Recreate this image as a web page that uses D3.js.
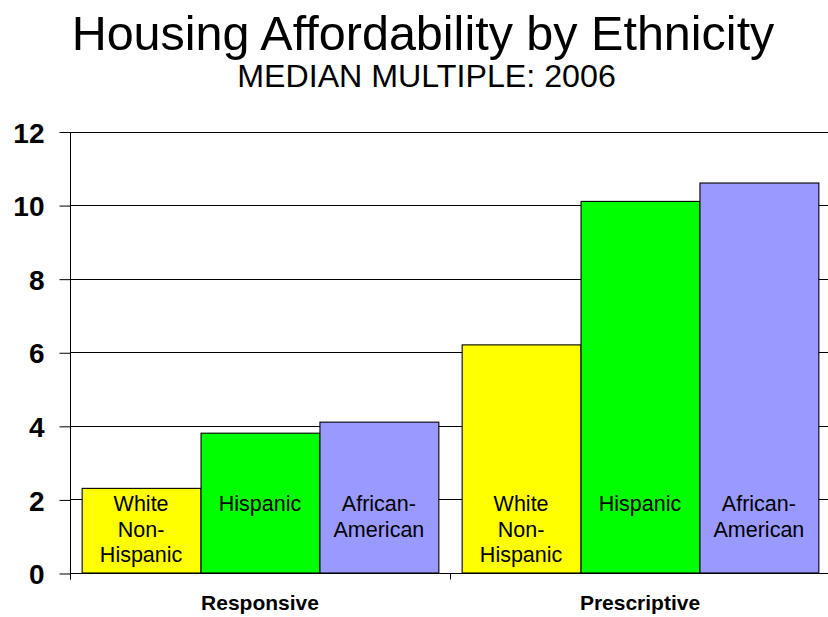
<!DOCTYPE html>
<html>
<head>
<meta charset="utf-8">
<script src="https://cdn.jsdelivr.net/npm/d3@7"></script>
<style>
  html, body { margin: 0; padding: 0; background: #fff; }
  svg { display: block; font-family: "Liberation Sans", Arial, sans-serif; }
</style>
</head>
<body>
<svg id="chart" width="828" height="617"></svg>
<script>
const categories = ["Responsive", "Prescriptive"];
const series = ["White Non-Hispanic", "Hispanic", "African-American"];
const seriesLabels = [["White", "Non-", "Hispanic"], ["Hispanic"], ["African-", "American"]];
const seriesColors = ["#FFFF00", "#00FF00", "#9999FF"];
const values = [
  [2.3, 3.8, 4.1],   // Responsive
  [6.2, 10.1, 10.6]  // Prescriptive
];
const yTicks = [0, 2, 4, 6, 8, 10, 12];
const titleText = "Housing Affordability by Ethnicity";
const subtitleText = "MEDIAN MULTIPLE: 2006";

const svg = d3.select("#chart");
const mLeft = 70, mRight = 830, mTop = 131.5, mBottom = 573;

const x0 = d3.scaleBand().domain(categories).range([mLeft, mRight]).padding(0);
const x1 = d3.scaleBand().domain(series).range([0, x0.bandwidth()]).paddingInner(0).paddingOuter(0.098);
const y = d3.scaleLinear().domain([0, 12]).range([mBottom, mTop]);

// Title
svg.append("text").attr("x", 423).attr("y", 50).attr("text-anchor", "middle")
  .attr("font-size", 48.5).attr("fill", "#000").text(titleText);
svg.append("text").attr("x", 426.5).attr("y", 87).attr("text-anchor", "middle")
  .attr("font-size", 32.2).attr("fill", "#000").text(subtitleText);

// Gridlines
svg.append("g").selectAll("line").data(yTicks.filter(d => d > 0)).join("line")
  .attr("x1", mLeft).attr("x2", mRight)
  .attr("y1", d => Math.round(y(d)) + 0.5).attr("y2", d => Math.round(y(d)) + 0.5)
  .attr("stroke", "#000").attr("stroke-width", 1);

// Y axis
const yAxis = d3.axisLeft(y).tickValues(yTicks).tickSize(11).tickPadding(15).tickFormat(d3.format("d"));
const gy = svg.append("g").attr("transform", `translate(${mLeft + 0.5},0.5)`).call(yAxis);
gy.select(".domain").attr("d", `M0,${mTop}V${mBottom + 6}`).attr("stroke", "#000");
gy.selectAll(".tick line").attr("stroke", "#000");
gy.selectAll(".tick text").attr("font-size", 28).attr("font-weight", "bold")
  .attr("font-family", "'Liberation Sans', Arial, sans-serif").attr("fill", "#000").attr("dy", "0.36em");

// Bars
const groups = svg.append("g").selectAll("g").data(categories).join("g")
  .attr("transform", d => `translate(${x0(d)},0)`);
groups.selectAll("rect").data((c, ci) => series.map((s, si) => ({ s, si, v: values[ci][si] })))
  .join("rect")
  .attr("x", d => x1(d.s) + 0.5)
  .attr("y", d => y(d.v))
  .attr("width", x1.bandwidth())
  .attr("height", d => y(0) - y(d.v))
  .attr("fill", d => seriesColors[d.si])
  .attr("stroke", "#000").attr("stroke-width", 1.1);

// Bar labels
groups.selectAll("text.lbl").data((c, ci) => series.map((s, si) => ({ s, si })))
  .join("text").attr("class", "lbl")
  .attr("text-anchor", "middle").attr("font-size", 21.5).attr("fill", "#000")
  .each(function(d) {
    const t = d3.select(this);
    seriesLabels[d.si].forEach((line, i) => {
      t.append("tspan").attr("x", x1(d.s) + x1.bandwidth() / 2)
        .attr("y", y(0) - 62 + i * 25.5).text(line);
    });
  });

// X axis
const xAxis = d3.axisBottom(x0).tickSize(0).tickFormat("");
const gx = svg.append("g").attr("transform", `translate(0,${mBottom + 0.5})`).call(xAxis);
gx.select(".domain").attr("d", `M${mLeft},0H${mRight}`).attr("stroke", "#000");
// category boundary ticks
svg.append("g").selectAll("line").data(categories.concat(["end"])).join("line")
  .attr("x1", (d, i) => Math.round(mLeft + i * x0.step()) + 0.5)
  .attr("x2", (d, i) => Math.round(mLeft + i * x0.step()) + 0.5)
  .attr("y1", mBottom).attr("y2", mBottom + 6.5).attr("stroke", "#000");
// category labels
svg.append("g").selectAll("text").data(categories).join("text")
  .attr("x", d => x0(d) + x0.bandwidth() / 2).attr("y", 610)
  .attr("text-anchor", "middle").attr("font-size", 21).attr("font-weight", "bold")
  .attr("fill", "#000").text(d => d);
</script>
</body>
</html>
